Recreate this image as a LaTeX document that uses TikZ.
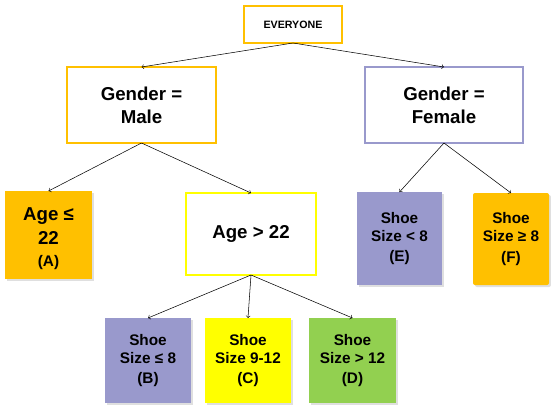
\documentclass[tikz,border=0pt]{standalone}
\usepackage{fontspec}
\setmainfont{Liberation Sans}
\usetikzlibrary{arrows, positioning, shadows}

\definecolor{orangebox}{HTML}{FFC000}
\definecolor{purplebox}{HTML}{9999CC}
\definecolor{yellowbox}{HTML}{FFFF00}
\definecolor{greenbox}{HTML}{92D050}

\begin{document}
\begin{tikzpicture}[x=0.75pt,y=-0.75pt,every node/.style={outer sep=0pt,align=center,inner sep=0pt}]

\tikzstyle{split}=[draw,line width=1.5pt,fill=white]
\tikzstyle{leaf}=[fill,drop shadow={shadow xshift=1.5pt,shadow yshift=-1.5pt,opacity=0.25}]
\tikzstyle{big}=[font=\fontsize{14}{17}\selectfont\bfseries]
\tikzstyle{shoe}=[font=\fontsize{11.5}{13.5}\selectfont\bfseries,minimum width=64.5pt,minimum height=63.75pt]

\useasboundingbox (0,0) rectangle (551,408);

% root and first split
\node (everyone) [split,draw=orangebox,minimum width=73.5pt,minimum height=27.75pt,font=\fontsize{8}{9}\selectfont\bfseries] at (293,24.5) {EVERYONE};
\node (male) [split,draw=orangebox,big,minimum width=111.75pt,minimum height=57pt] at (141.5,105) {Gender =\\Male};
\node (female) [split,draw=purplebox,big,minimum width=118.5pt,minimum height=57pt] at (444,105) {Gender =\\Female};

% second level
\node (agelow) [leaf,fill=orangebox,big,minimum width=65.25pt,minimum height=66pt] at (48.5,235) {\raisebox{-3pt}[\height][\depth]{\begin{tabular}{@{}c@{}}Age ≤\\[1pt]22\\[-1pt]{\fontsize{11.5}{13}\selectfont (A)}\end{tabular}}};
\node (agehigh) [split,draw=yellowbox,big,minimum width=97.5pt,minimum height=61.5pt] at (251,234) {Age > 22};
\node (shoeE) [leaf,shoe,fill=purplebox,minimum width=63.75pt,minimum height=69.75pt] at (399.5,238.5) {Shoe\\Size < 8\\[2pt](E)};
\node (shoeF) [leaf,shoe,fill=orangebox,rounded corners=1.5pt,minimum width=57pt,minimum height=69pt] at (511,239) {Shoe\\Size ≥ 8\\[2pt](F)};

% third level
\node (shoeB) [leaf,shoe,fill=purplebox] at (148,360.5) {Shoe\\Size ≤ 8\\[2pt](B)};
\node (shoeC) [leaf,shoe,fill=yellowbox] at (248,360.5) {Shoe\\Size 9-12\\[2pt](C)};
\node (shoeD) [leaf,shoe,fill=greenbox,minimum width=65.25pt] at (352.5,360.5) {Shoe\\Size > 12\\[2pt](D)};

\draw [->, thin] (everyone.south) -- (male.north);
\draw [->, thin] (everyone.south) -- (female.north);
\draw [->, thin] (male.south) -- (agelow.north);
\draw [->, thin] (male.south) -- (agehigh.north);
\draw [->, thin] (female.south) -- (shoeE.north);
\draw [->, thin] (female.south) -- (shoeF.north);
\draw [->, thin] (agehigh.south) -- (shoeB.north);
\draw [->, thin] (agehigh.south) -- (shoeC.north);
\draw [->, thin] (agehigh.south) -- (shoeD.north);

\end{tikzpicture}
\end{document}
